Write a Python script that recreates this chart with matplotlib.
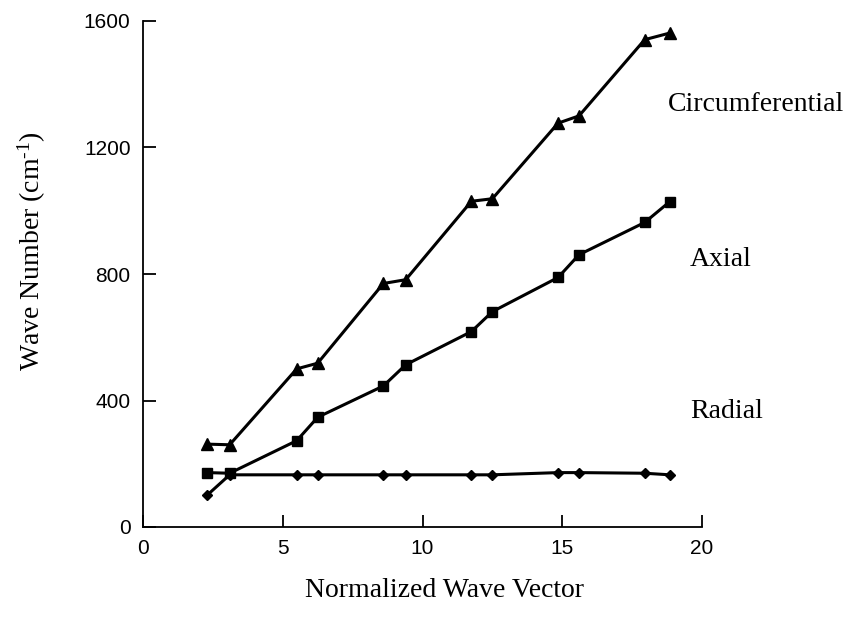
import matplotlib
matplotlib.use("Agg")
import matplotlib.pyplot as plt

# =========================
# data
# =========================
wave_vector = [2.3, 3.1, 5.5, 6.25, 8.6, 9.4, 11.75, 12.5, 14.85, 15.6, 17.95, 18.85]
circumferential = [262, 260, 500, 518, 770, 782, 1030, 1038, 1277, 1300, 1541, 1562]
axial = [172, 170, 273, 347, 446, 513, 618, 681, 789, 861, 963, 1029]
radial = [101, 165, 165, 165, 165, 165, 165, 165, 172, 172, 170, 165]

series_names = ["Circumferential", "Axial", "Radial"]
label_pos = [(18.78, 1335), (19.57, 845), (19.57, 364)]

x_ticks = [0, 5, 10, 15, 20]
y_ticks = [0, 400, 800, 1200, 1600]

# =========================
# plot
# =========================
serif = "Liberation Serif"
plt.rcParams["mathtext.fontset"] = "custom"
plt.rcParams["mathtext.rm"] = serif
plt.rcParams["mathtext.it"] = serif + ":italic"

fig = plt.figure(figsize=(8.63, 6.19), dpi=100)
ax = fig.add_axes([143 / 863, 1 - 527 / 619, (702 - 143) / 863, (527 - 21) / 619])

ax.plot(wave_vector, circumferential, color="black", lw=2.2, marker="^", ms=8, clip_on=False)
ax.plot(wave_vector, axial, color="black", lw=2.2, marker="s", ms=6.5, clip_on=False)
ax.plot(wave_vector, radial, color="black", lw=2.2, marker="D", ms=5, clip_on=False)

for name, (tx, ty) in zip(series_names, label_pos):
    ax.text(tx, ty, name, family=serif, fontsize=20, ha="left", va="center", clip_on=False)

ax.set_xlim(0, 20)
ax.set_ylim(0, 1600)
ax.set_xticks(x_ticks)
ax.set_yticks(y_ticks)
ax.spines["top"].set_visible(False)
ax.spines["right"].set_visible(False)
for s in ("left", "bottom"):
    ax.spines[s].set_linewidth(1.3)
ax.tick_params(direction="in", length=9, width=1.3, labelsize=15, pad=9)
for lab in ax.get_xticklabels() + ax.get_yticklabels():
    lab.set_family("Liberation Sans")

ax.set_xlabel("Normalized Wave Vector", family=serif, fontsize=20)
ax.set_ylabel(r"Wave Number (cm$^{\mathrm{‐1}}$)", family=serif, fontsize=20)
ax.xaxis.set_label_coords(0.54, -0.10)
ax.yaxis.set_label_coords(-0.17, 0.545)

fig.savefig("out.png", dpi=100)
